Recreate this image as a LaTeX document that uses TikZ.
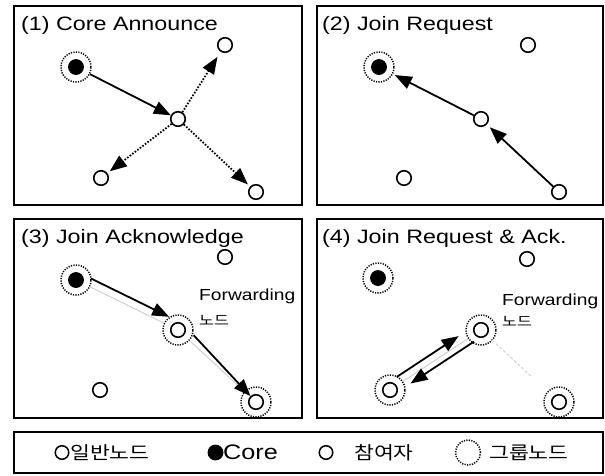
\documentclass[tikz,border=0pt]{standalone}
\usepackage{fontspec}
\setmainfont{Liberation Sans}[FakeStretch=1.2]
\newfontfamily\kr{Noto Sans CJK KR}[FakeStretch=1.2]
\usetikzlibrary{arrows.meta,calc}
\begin{document}
\begin{tikzpicture}[x=1pt,y=-1pt,
  panel/.style={line width=1.6pt},
  plain/.style={circle,draw,line width=1.6pt,fill=white,minimum size=14.5pt,inner sep=0pt},
  coredot/.style={circle,fill=black,draw=black,line width=0.8pt,minimum size=15pt,inner sep=0pt},
  ring/.style={circle,draw,line width=1.5pt,dash pattern=on 1.2pt off 1.3pt,minimum size=30pt,inner sep=0pt},
  tip/.style={-{Triangle[length=17pt,width=13pt]}},
  sarr/.style={tip,line width=1.8pt},
  darr/.style={tip,line width=1.8pt,dash pattern=on 1.6pt off 1.6pt},
  faint/.style={line width=1pt,draw=black!18},
  ttl/.style={anchor=base west,inner sep=0pt,font=\fontsize{19.4}{22}\selectfont},
  fwd/.style={anchor=base west,inner sep=0pt,font=\fontsize{16}{18}\selectfont},
  fwdk/.style={anchor=west,inner sep=0pt,font=\kr\fontsize{13.5}{15}\selectfont},
  legk/.style={anchor=west,inner sep=0pt,font=\kr\fontsize{18}{20}\selectfont},
]
\useasboundingbox (0,0) rectangle (605,475);
\fill[white] (0,0) rectangle (605,475);

% ---------- Panel 1
\draw[panel] (14,6) rectangle (302,205);
\node[ttl] (t1) at (21,30) {(1) Core Announce};
\node[ring] (c1r) at (76,67) {};
\node[coredot] (c1) at (76,67) {};
\node[plain] (m1) at (178,119) {};
\node[plain] (a1) at (225,45) {};
\node[plain] (b1) at (101,178) {};
\node[plain] (r1) at (256,192) {};
\draw[sarr] (c1r) -- (m1);
\draw[darr,shorten >=6pt] (m1) -- (a1);
\draw[darr,shorten >=3pt] (m1) -- (b1);
\draw[darr,shorten >=3pt] (m1) -- (r1);

% ---------- Panel 2
\draw[panel] (317,6) rectangle (603,205);
\node[ttl] (t2) at (322,30) {(2) Join Request};
\node[ring] (c2r) at (379,67) {};
\node[coredot] (c2) at (379,67) {};
\node[plain] (m2) at (481,119) {};
\node[plain] (a2) at (528,45) {};
\node[plain] (b2) at (404,178) {};
\node[plain] (r2) at (559,192) {};
\draw[sarr,shorten >=4pt] (r2) -- (m2);
\draw[sarr,shorten >=2pt] (m2) -- (c2r);

% ---------- Panel 3
\draw[panel] (14,219) rectangle (302,418);
\node[ttl] (t3) at (21,243) {(3) Join Acknowledge};
\node[ring] (c3r) at (76,280) {};
\node[coredot] (c3) at (76,280) {};
\node[ring] (f3r) at (178,330) {};
\node[plain] (f3) at (178,330) {};
\node[plain] (a3) at (225,257) {};
\node[plain] (b3) at (100,390) {};
\node[ring] (r3r) at (256,402) {};
\node[plain] (r3) at (256,402) {};
\draw[faint] (c3r) -- (f3r);
\draw[faint] (f3r) -- (r3r);
\draw[sarr] ($(c3r)!13pt!(f3r)+(3.4,-7.2)$) -- ($(c3r)!100pt!(f3r)+(3.4,-7.2)$);
\draw[sarr] ($(f3)!15pt!(r3)+(4.6,-5)$) -- (r3);
\node[fwd] (fw3) at (199,300) {Forwarding};
\node[fwdk] (fk3) at (199,320) {노드};

% ---------- Panel 4
\draw[panel] (317,219) rectangle (603,418);
\node[ttl] (t4) at (322,243) {(4) Join Request \& Ack.};
\node[ring] (c4r) at (378,278) {};
\node[coredot] (c4) at (378,278) {};
\node[plain] (a4) at (527,259) {};
\node[ring] (f4r) at (481,330) {};
\node[plain] (f4) at (481,330) {};
\node[ring] (b4r) at (390,390) {};
\node[plain] (b4) at (390,390) {};
\node[ring] (r4r) at (559,402) {};
\node[plain] (r4) at (559,402) {};
\draw[faint] (b4r) -- (f4r);
\draw[faint,dash pattern=on 3pt off 2pt] ($(f4)!15pt!(r4)$) -- ($(f4)!70pt!(r4)$);
\draw[sarr] ($(b4)!13pt!(f4)+(-4,-6)$) -- ($(b4)!87pt!(f4)+(-4,-6)$);
\draw[sarr] ($(f4)!12pt!(b4)+(3,5)$) -- ($(f4)!88pt!(b4)+(3,5)$);
\node[fwd] (fw4) at (502,305) {Forwarding};
\node[fwdk] (fk4) at (502,321) {노드};

% ---------- Legend
\draw[panel] (14,432) rectangle (603,473);
\node[plain,minimum size=13.5pt,line width=1.5pt] (l1) at (62,452.5) {};
\node[legk] (l1t) at (70,452.5) {일반노드};
\node[coredot,minimum size=15pt] (l2) at (215.5,452.5) {};
\node[anchor=west,inner sep=0pt,font=\fontsize{21}{24}\selectfont] (l2t) at (223,452.5) {Core};
\node[plain,minimum size=13.5pt,line width=1.5pt] (l3) at (326,452.5) {};
\node[legk] (l3t) at (354,452.5) {참여자};
\node[ring,minimum size=25pt] (l4) at (468,452.5) {};
\node[legk] (l4t) at (489,452.5) {그룹노드};
\end{tikzpicture}
\end{document}
